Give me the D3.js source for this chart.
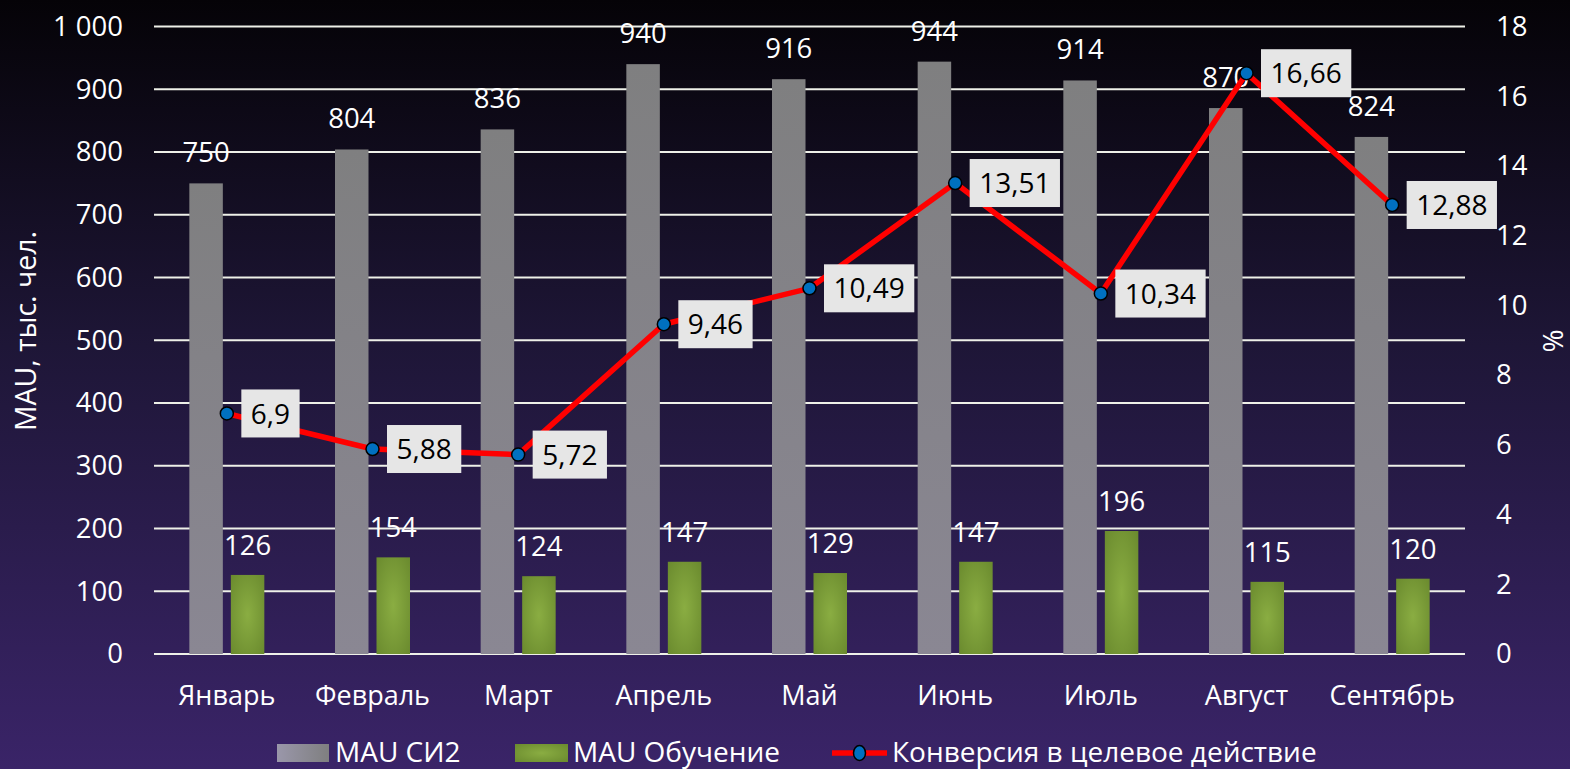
<!DOCTYPE html>
<html><head><meta charset="utf-8">
<script src="https://cdn.jsdelivr.net/npm/d3@7"></script>
<style>html,body{margin:0;padding:0;background:#000;}svg{display:block;}</style>
</head><body>
<script>
const categories = ["Январь","Февраль","Март","Апрель","Май","Июнь","Июль","Август","Сентябрь"];
const mauSI2 = [750, 804, 836, 940, 916, 944, 914, 870, 824];
const mauTraining = [126, 154, 124, 147, 129, 147, 196, 115, 120];
const conversion = [6.9, 5.88, 5.72, 9.46, 10.49, 13.51, 10.34, 16.66, 12.88];
const leftTicks = [0,100,200,300,400,500,600,700,800,900,1000];
const rightTicks = [0,2,4,6,8,10,12,14,16,18];
const seriesNames = ["MAU СИ2","MAU Обучение","Конверсия в целевое действие"];
const leftTitle = "MAU, тыс. чел.";
const rightTitle = "%";

const W = 1570, H = 769;
const FONT = "'Open Sans', sans-serif";
const svg = d3.select("body").append("svg").attr("width", W).attr("height", H);
const defs = svg.append("defs");
const bg = defs.append("linearGradient").attr("id","bg").attr("x1",0).attr("y1",0).attr("x2",0).attr("y2",1);
bg.append("stop").attr("offset","0%").attr("stop-color","#050307");
bg.append("stop").attr("offset","45%").attr("stop-color","#1e1637");
bg.append("stop").attr("offset","100%").attr("stop-color","#3a2468");
const gg = defs.append("radialGradient").attr("id","green").attr("cx","50%").attr("cy","50%").attr("r","70%");
gg.append("stop").attr("offset","0%").attr("stop-color","#8aad42");
gg.append("stop").attr("offset","100%").attr("stop-color","#6a8a2e");
const gr = defs.append("linearGradient").attr("id","gray").attr("x1",0).attr("y1",0).attr("x2",0).attr("y2",1);
gr.append("stop").attr("offset","0%").attr("stop-color","#7f7f80");
gr.append("stop").attr("offset","100%").attr("stop-color","#8a8793");
const grL = defs.append("linearGradient").attr("id","grayL").attr("x1",0).attr("y1",0).attr("x2",1).attr("y2",0);
grL.append("stop").attr("offset","0%").attr("stop-color","#9a97aa");
grL.append("stop").attr("offset","100%").attr("stop-color","#7f7f80");

svg.append("rect").attr("width",W).attr("height",H).attr("fill","url(#bg)");

const pLeft = 154, pRight = 1465, pTop = 26.5, pBottom = 654;
const x = d3.scaleBand().domain(categories).range([pLeft, pRight]).padding(0);
const yL = d3.scaleLinear().domain([0,1000]).range([pBottom, pTop]);
const yR = d3.scaleLinear().domain([0,18]).range([pBottom, pTop]);

// gridlines
svg.append("g").selectAll("line").data(leftTicks).join("line")
  .attr("x1", pLeft).attr("x2", pRight)
  .attr("y1", d => yL(d)).attr("y2", d => yL(d))
  .attr("stroke","#eef0e8").attr("stroke-width",2);

// left axis
const axL = svg.append("g").attr("transform",`translate(${pLeft},0)`)
  .call(d3.axisLeft(yL).tickValues(leftTicks).tickSize(0).tickPadding(31)
    .tickFormat(d => d3.format(",")(d).replace(",", " ")));
axL.select(".domain").remove();
axL.selectAll("text").attr("fill","#fff").attr("font-family",FONT).attr("font-size",27.5);

// right axis
const axR = svg.append("g").attr("transform",`translate(${pRight},0)`)
  .call(d3.axisRight(yR).tickValues(rightTicks).tickSize(0).tickPadding(31));
axR.select(".domain").remove();
axR.selectAll("text").attr("fill","#fff").attr("font-family",FONT).attr("font-size",27.5);

// bottom axis
const axB = svg.append("g").attr("transform",`translate(0,${pBottom})`)
  .call(d3.axisBottom(x).tickSize(0).tickPadding(32));
axB.select(".domain").remove();
axB.selectAll("text").attr("fill","#fff").attr("font-family",FONT).attr("font-size",27);

// titles
svg.append("text").attr("transform",`translate(36,331) rotate(-90)`)
  .attr("text-anchor","middle").attr("fill","#fff").attr("font-family",FONT).attr("font-size",28.5).text(leftTitle);
svg.append("text").attr("transform",`translate(1563,341) rotate(-90)`)
  .attr("text-anchor","middle").attr("fill","#fff").attr("font-family",FONT).attr("font-size",28).text(rightTitle);

const bw = 33.5, gap = 4;
const cx = c => x(c) + x.bandwidth()/2;

// gray bars
svg.append("g").selectAll("rect").data(categories).join("rect")
  .attr("x", c => cx(c) - gap - bw).attr("width", bw)
  .attr("y", (c,i) => yL(mauSI2[i])).attr("height", (c,i) => pBottom - yL(mauSI2[i]))
  .attr("fill","url(#gray)");
// green bars
svg.append("g").selectAll("rect").data(categories).join("rect")
  .attr("x", c => cx(c) + gap).attr("width", bw)
  .attr("y", (c,i) => yL(mauTraining[i])).attr("height", (c,i) => pBottom - yL(mauTraining[i]))
  .attr("fill","url(#green)");

const fmt = v => String(v).replace(".", ",");
// bar labels
svg.append("g").selectAll("text").data(categories).join("text")
  .attr("x", c => cx(c) - gap - bw/2).attr("y", (c,i) => yL(mauSI2[i]) - 21)
  .attr("text-anchor","middle").attr("fill","#fff").attr("font-family",FONT).attr("font-size",27.5)
  .text((c,i) => mauSI2[i]);
svg.append("g").selectAll("text").data(categories).join("text")
  .attr("x", c => cx(c) + gap + bw/2).attr("y", (c,i) => yL(mauTraining[i]) - 20)
  .attr("text-anchor","middle").attr("fill","#fff").attr("font-family",FONT).attr("font-size",27.5)
  .text((c,i) => mauTraining[i]);

// line
const line = d3.line().x((d,i) => cx(categories[i])).y(d => yR(d));
svg.append("path").datum(conversion).attr("d", line).attr("fill","none")
  .attr("stroke","#ff0000").attr("stroke-width",5.5).attr("stroke-linejoin","round");
svg.append("g").selectAll("circle").data(conversion).join("circle")
  .attr("cx",(d,i) => cx(categories[i])).attr("cy", d => yR(d)).attr("r",6.5)
  .attr("fill","#0070c0").attr("stroke","#000").attr("stroke-width",1.5);

// line labels
const lg = svg.append("g").selectAll("g").data(conversion).join("g")
  .attr("transform",(d,i) => `translate(${cx(categories[i]) + 14.5},${yR(d)})`);
lg.each(function(d){
  const g = d3.select(this);
  const t = g.append("text").attr("x",9.5).attr("y",0).attr("dy","0.36em")
    .attr("fill","#000").attr("font-family",FONT).attr("font-size",28).text(fmt(d));
  const w = t.node().getComputedTextLength();
  g.insert("rect","text").attr("x",0).attr("y",-24).attr("width",w+19).attr("height",48).attr("fill","#e6e6e6");
});

// legend
const ly = 752;
const leg = svg.append("g").attr("font-family",FONT).attr("font-size",28).attr("fill","#fff");
leg.append("rect").attr("x",277).attr("y",ly-8).attr("width",52).attr("height",18).attr("fill","url(#grayL)");
leg.append("text").attr("x",335).attr("y",ly).attr("dy","0.36em").text(seriesNames[0]);
leg.append("rect").attr("x",515).attr("y",ly-8).attr("width",53).attr("height",18).attr("fill","url(#green)");
leg.append("text").attr("x",573).attr("y",ly).attr("dy","0.36em").text(seriesNames[1]);
leg.append("line").attr("x1",832).attr("x2",887).attr("y1",ly+1).attr("y2",ly+1).attr("stroke","#ff0000").attr("stroke-width",5.5);
leg.append("ellipse").attr("cx",859.5).attr("cy",ly+1).attr("rx",6).attr("ry",7.5).attr("fill","#0070c0").attr("stroke","#000").attr("stroke-width",1.5);
leg.append("text").attr("x",892).attr("y",ly).attr("dy","0.36em").text(seriesNames[2]);
</script>
</body></html>
